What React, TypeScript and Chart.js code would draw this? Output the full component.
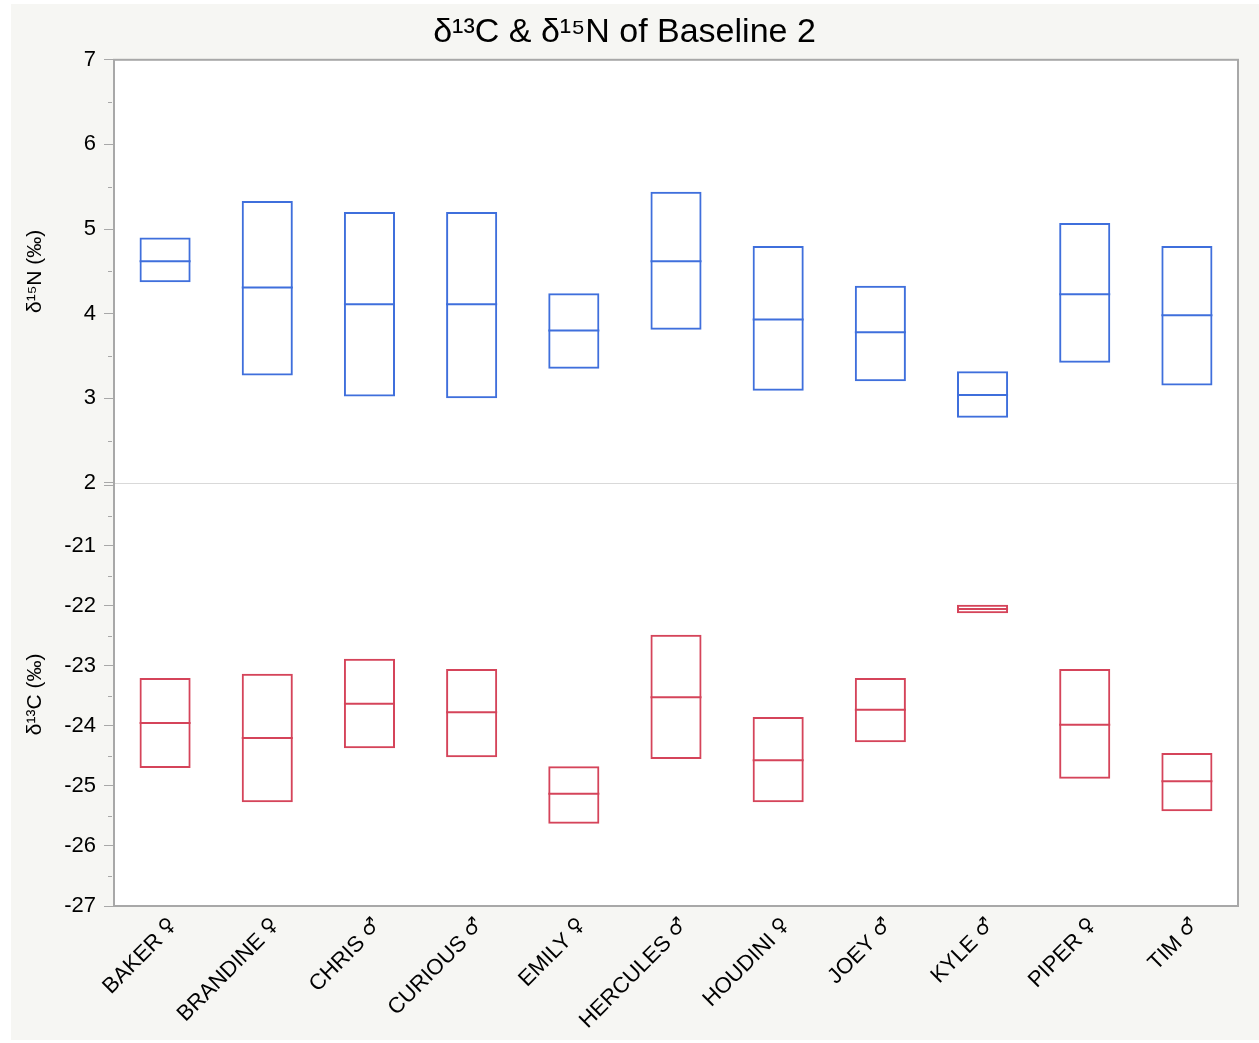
import { useEffect, useRef } from 'react';
import { Chart, registerables } from 'chart.js';

Chart.register(...registerables);

const animals = ['BAKER', 'BRANDINE', 'CHRIS', 'CURIOUS', 'EMILY', 'HERCULES', 'HOUDINI', 'JOEY', 'KYLE', 'PIPER', 'TIM'];
const sexes = ['♀', '♀', '♂', '♂', '♀', '♂', '♀', '♂', '♂', '♀', '♂'];

const n15Low = [4.37, 3.27, 3.02, 3.0, 3.35, 3.81, 3.09, 3.2, 2.77, 3.42, 3.15];
const n15High = [4.9, 5.33, 5.2, 5.2, 4.24, 5.44, 4.8, 4.33, 3.32, 5.07, 4.8];
const n15Median = [4.62, 4.31, 4.11, 4.11, 3.8, 4.62, 3.93, 3.78, 3.04, 4.23, 3.98];

const c13Low = [-24.7, -25.27, -24.37, -24.52, -25.63, -24.55, -25.27, -24.27, -22.12, -24.88, -25.42];
const c13High = [-23.2, -23.13, -22.88, -23.05, -24.67, -22.48, -23.85, -23.2, -21.98, -23.05, -24.45];
const c13Median = [-23.95, -24.2, -23.63, -23.77, -25.13, -23.52, -24.57, -23.73, -22.05, -23.98, -24.92];

const labels = animals.map((a, i) => `${a} ${sexes[i]}`);

const BLUE = '#3f6fdc';
const RED = '#d5445a';
const FONT = "'Liberation Sans', Arial, sans-serif";
const SYMFONT = "'DejaVu Sans', sans-serif";

const framePlugin = {
  id: 'frame',
  beforeDraw(chart: any) {
    const { ctx, chartArea } = chart;
    ctx.save();
    ctx.fillStyle = '#ffffff';
    ctx.fillRect(chartArea.left, chartArea.top, chartArea.right - chartArea.left, chartArea.bottom - chartArea.top);
    ctx.restore();
  },
  beforeDatasetsDraw(chart: any) {
    const { ctx, chartArea } = chart;
    const yDiv = chart.scales.yN.bottom;
    ctx.save();
    ctx.strokeStyle = '#d9d9d9';
    ctx.lineWidth = 1;
    ctx.beginPath();
    ctx.moveTo(chartArea.left, Math.round(yDiv) + 0.5);
    ctx.lineTo(chartArea.right, Math.round(yDiv) + 0.5);
    ctx.stroke();
    ctx.restore();
  },
  afterDraw(chart: any) {
    const { ctx, chartArea } = chart;
    ctx.save();
    ctx.strokeStyle = '#a8a8a8';
    ctx.lineWidth = 1;
    ['yN', 'yC'].forEach((id) => {
      const s = chart.scales[id];
      const start = Math.ceil(s.min * 2) / 2;
      for (let v = start; v <= s.max + 1e-9; v += 0.5) {
        if (Math.abs(v - Math.round(v)) < 1e-9) continue;
        const y = Math.round(s.getPixelForValue(v)) + 0.5;
        ctx.beginPath();
        ctx.moveTo(chartArea.left - 6, y);
        ctx.lineTo(chartArea.left - 2, y);
        ctx.stroke();
      }
    });
    ctx.lineWidth = 2;
    ctx.strokeRect(chartArea.left, chartArea.top, chartArea.right - chartArea.left, chartArea.bottom - chartArea.top);

    const xs = chart.scales.x;
    ctx.fillStyle = '#000';
    ctx.textBaseline = 'middle';
    ctx.textAlign = 'right';
    animals.forEach((name, i) => {
      const x = xs.getPixelForValue(i);
      ctx.save();
      ctx.translate(x + 9, xs.top + 17);
      ctx.rotate(-Math.PI / 4);
      ctx.font = `20px ${SYMFONT}`;
      const symW = ctx.measureText(sexes[i]).width;
      ctx.fillText(sexes[i], 0, -2);
      ctx.font = `22px ${FONT}`;
      ctx.fillText(name, -symW - 6, 0);
      ctx.restore();
    });
    ctx.restore();
  },
};

export default function App() {
  const ref = useRef<HTMLCanvasElement | null>(null);

  useEffect(() => {
    if (!ref.current) return;
    const barCommon = {
      type: 'bar' as const,
      backgroundColor: 'rgba(0,0,0,0)',
      borderWidth: 2,
      borderSkipped: false,
      grouped: false,
      categoryPercentage: 1,
      barPercentage: 0.5,
    };
    const medCommon = {
      type: 'line' as const,
      showLine: false,
      pointStyle: 'line',
      pointRadius: 25.5,
      pointHoverRadius: 25.5,
      pointBorderWidth: 2,
    };
    const chart = new Chart(ref.current, {
      type: 'bar',
      data: {
        labels,
        datasets: [
          { ...barCommon, label: 'δ15N', data: animals.map((_, i) => [n15Low[i], n15High[i]]), borderColor: BLUE, yAxisID: 'yN' },
          { ...medCommon, label: 'δ15N median', data: n15Median, borderColor: BLUE, pointBorderColor: BLUE, yAxisID: 'yN' },
          { ...barCommon, label: 'δ13C', data: animals.map((_, i) => [c13Low[i], c13High[i]]), borderColor: RED, yAxisID: 'yC' },
          { ...medCommon, label: 'δ13C median', data: c13Median, borderColor: RED, pointBorderColor: RED, yAxisID: 'yC' },
        ] as any,
      },
      options: {
        animation: false,
        responsive: false,
        events: [],
        layout: { autoPadding: false, padding: { left: 0, right: 21, top: 0, bottom: 0 } },
        plugins: {
          legend: { display: false },
          tooltip: { enabled: false },
          title: {
            display: true,
            text: 'δ¹³C & δ¹⁵N of Baseline 2',
            color: '#000',
            font: { family: FONT, size: 34, weight: 'normal' },
            padding: { top: 8, bottom: 7 },
          },
        },
        scales: {
          x: {
            type: 'category',
            grid: { display: false, drawTicks: false },
            border: { display: false },
            ticks: { display: false },
            afterFit: (s: any) => { s.height = 134; s.paddingLeft = 0; s.paddingRight = 0; },
          },
          yN: {
            type: 'linear',
            position: 'left',
            stack: 'panels',
            stackWeight: 1,
            weight: 2,
            min: 2,
            max: 7,
            grid: { drawOnChartArea: false, tickLength: 10, color: '#a8a8a8' },
            border: { display: false },
            ticks: { stepSize: 1, color: '#000', font: { family: FONT, size: 22 }, padding: 8 },
            title: { display: true, text: 'δ¹⁵N (‰)', color: '#000', font: { family: FONT, size: 21 }, padding: { top: 12, bottom: 0 } },
            afterFit: (s: any) => { s.width = 103; },
          },
          yC: {
            type: 'linear',
            position: 'left',
            stack: 'panels',
            stackWeight: 1,
            weight: 1,
            min: -27,
            max: -19.95,
            grid: { drawOnChartArea: false, tickLength: 10, color: '#a8a8a8' },
            border: { display: false },
            ticks: {
              stepSize: 1,
              includeBounds: false,
              color: '#000',
              font: { family: FONT, size: 22 },
              padding: 8,
              callback: (v: any) => (Math.round(v) === -20 ? '' : String(v)),
            },
            title: { display: true, text: 'δ¹³C (‰)', color: '#000', font: { family: FONT, size: 21 }, padding: { top: 12, bottom: 0 } },
            afterFit: (s: any) => { s.width = 103; },
          },
        },
      } as any,
      plugins: [framePlugin],
    });
    return () => chart.destroy();
  }, []);

  return (
    <div style={{ position: 'absolute', left: 11, top: 4, width: 1248, height: 1036, background: '#f6f6f3' }}>
      <canvas ref={ref} width={1248} height={1036} style={{ width: 1248, height: 1036, display: 'block' }} />
    </div>
  );
}
